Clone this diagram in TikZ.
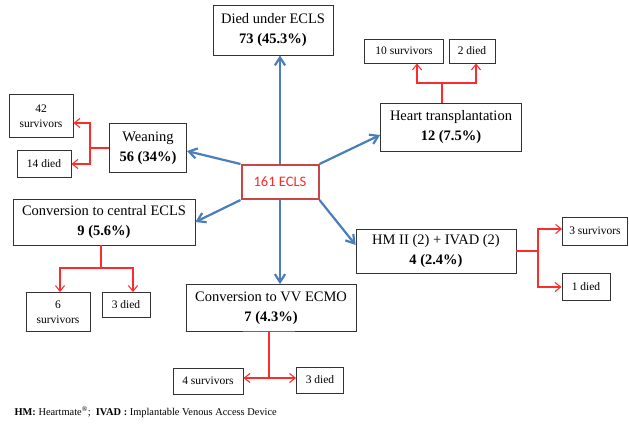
\documentclass[tikz,border=0pt]{standalone}
\usepackage{fontspec}
\setmainfont{Liberation Serif}
\newfontfamily\calib{Carlito}
\usetikzlibrary{arrows.meta,positioning,calc}
\definecolor{steel}{RGB}{74,126,187}
\definecolor{alarm}{RGB}{250,45,45}
\definecolor{brick}{RGB}{200,70,70}
\tikzset{
  barr/.style={-{Straight Barb[length=2.8mm,width=3.6mm]},line width=2.2pt,draw=steel},
  rarr/.style={-{Straight Barb[length=2mm,width=3.2mm]},line width=1.1pt,draw=alarm},
  rline/.style={line width=1.1pt,draw=alarm},
  big/.style={draw=black!80,line width=0.8pt,fill=white,align=center,inner sep=1pt,font=\fontsize{14.5}{20}\selectfont},
  small/.style={draw=black!80,line width=0.8pt,fill=white,align=center,inner sep=1pt,font=\fontsize{11.5}{15}\selectfont},
  hub/.style={draw=brick,line width=2pt,fill=white,text=alarm,font=\calib\fontsize{14.5}{17}\selectfont}
}
\begin{document}
\begin{tikzpicture}[x=1pt,y=-1pt]
  \useasboundingbox (0,0) rectangle (629,424);
  % centre and outcome boxes
  \node[hub,minimum width=77,minimum height=34] (ecls) at (280,182) {161 ECLS};
  \node[big,minimum width=120,minimum height=50] (died) at (273,30) {Died under ECLS\\\textbf{73 (45.3\%)}};
  \node[big,minimum width=141,minimum height=48] (htx) at (451,127) {Heart transplantation\\\textbf{12 (7.5\%)}};
  \node[big,minimum width=77,minimum height=49] (wean) at (148,148) {Weaning\\\textbf{56 (34\%)}};
  \node[big,minimum width=182,minimum height=46] (cent) at (104,222) {Conversion to central ECLS\\\textbf{9 (5.6\%)}};
  \node[big,minimum width=160,minimum height=44] (hm) at (436,251) {HM II (2) + IVAD (2)\\\textbf{4 (2.4\%)}};
  \node[big,minimum width=170,minimum height=47] (vv) at (271,308) {Conversion to VV ECMO\\\textbf{7 (4.3\%)}};
  % survivors / died
  \node[small,minimum width=79,minimum height=24] (hts) at (404,51) {10 survivors};
  \node[small,minimum width=46,minimum height=24] (htd) at (472,51) {2 died};
  \node[small,minimum width=64,minimum height=43] (wes) at (41,116) {42\\survivors};
  \node[small,minimum width=54,minimum height=27] (wed) at (44,164) {14 died};
  \node[small,minimum width=64,minimum height=39] (ces) at (58,312) {6\\survivors};
  \node[small,minimum width=48,minimum height=25] (ced) at (126,305) {3 died};
  \node[small,minimum width=65,minimum height=28] (hms) at (595,231) {3 survivors};
  \node[small,minimum width=48,minimum height=27] (hmd) at (586,287) {1 died};
  \node[small,minimum width=70,minimum height=26] (vvs) at (208,381) {4 survivors};
  \node[small,minimum width=47,minimum height=26] (vvd) at (320,380) {3 died};
  % blue arrows
  \draw[barr] (ecls.north) -- (ecls.north |- died.south);
  \draw[barr] (ecls.north east) -- ([yshift=-8pt]htx.west);
  \draw[barr] (ecls.north west) -- ([yshift=-3pt]wean.east);
  \draw[barr] (ecls.south west) -- (cent.east);
  \draw[barr] (ecls.south) -- (ecls.south |- vv.north);
  \draw[barr] (ecls.south east) -- ([yshift=6pt]hm.west);
  % red branches
  \coordinate (hj) at (442,83);
  \draw[rline] (htx.north -| hj) -- (hj);
  \draw[rarr] (hj) -| ([xshift=13pt]hts.south);
  \draw[rarr] (hj) -| ([xshift=4pt]htd.south);
  \coordinate (wj) at (90,148);
  \draw[rline] (wean.west) -- (wj);
  \draw[rarr] (wj) |- ([yshift=-7pt]wes.east);
  \draw[rarr] (wj) |- (wed.east);
  \coordinate (cj) at (101,268);
  \draw[rline] (cent.south -| cj) -- (cj);
  \draw[rarr] (cj) -| ([xshift=2pt]ces.north);
  \draw[rarr] (cj) -| ([xshift=7pt]ced.north);
  \coordinate (mj) at (538,251);
  \draw[rline] (hm.east) -- (mj);
  \draw[rarr] (mj) |- ([yshift=2pt]hms.west);
  \draw[rarr] (mj) |- (hmd.west);
  \coordinate (vj) at (269,378);
  \draw[rline] ([xshift=-28pt]vv.south) -- ([xshift=24pt]vv.south);
  \draw[rline] (vv.south -| vj) -- (vj);
  \draw[rarr] (vj) -- (vvs.east |- vj);
  \draw[rarr] (vj) -- (vvd.west |- vj);
  % footnote
  \node[anchor=west,font=\fontsize{10.4}{12}\selectfont] (note) at (11,412) {\textbf{HM:} Heartmate\textsuperscript{®}; \ \textbf{IVAD :} Implantable Venous Access Device};
\end{tikzpicture}
\end{document}
